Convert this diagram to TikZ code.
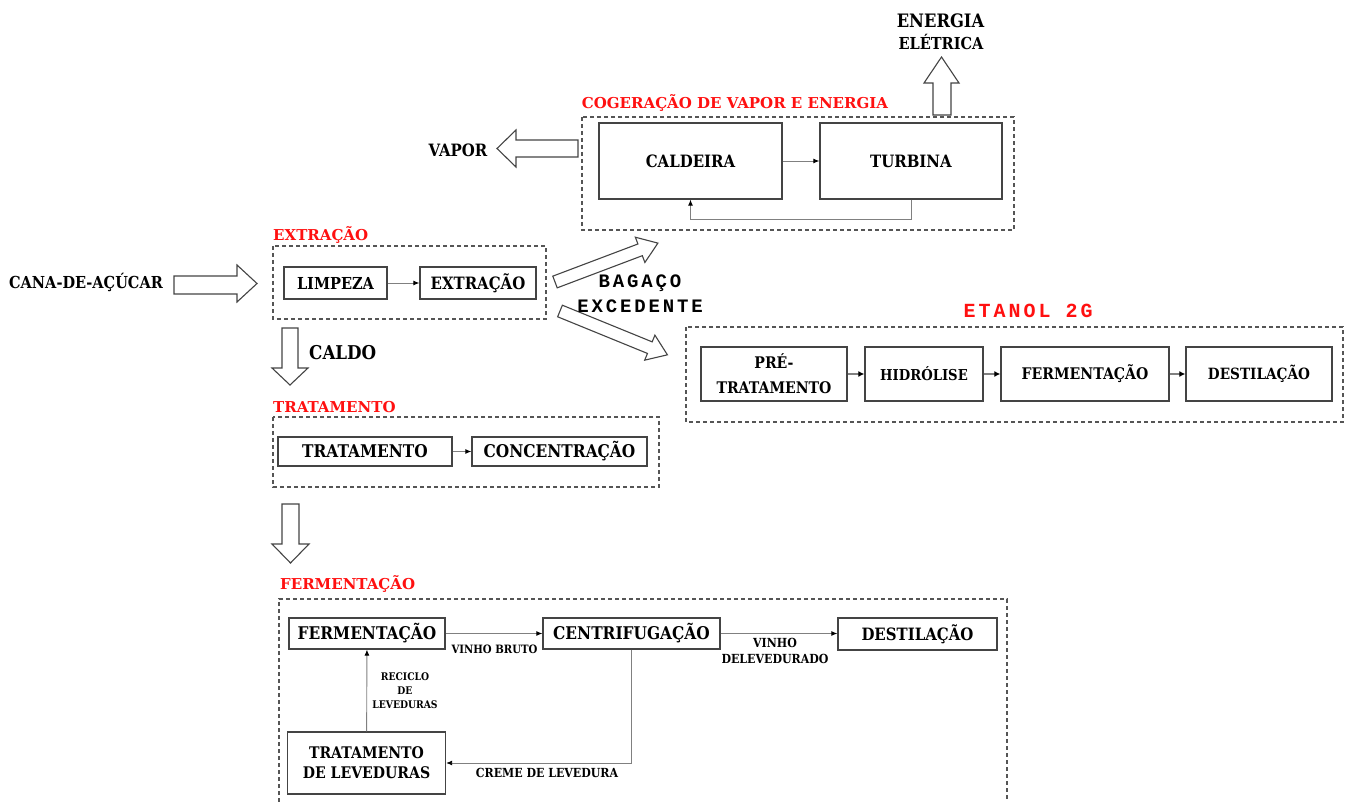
\documentclass[tikz,border=0pt]{standalone}
\usepackage{fontspec}
\setmainfont{DejaVu Serif}[FakeStretch=0.88]
\newfontfamily\wideserif{DejaVu Serif}
\newfontfamily\monofont{Liberation Mono}[LetterSpace=15]
\usetikzlibrary{arrows.meta}

\definecolor{boxline}{HTML}{444444}
\definecolor{dashgray}{HTML}{555555}
\definecolor{flowgray}{HTML}{808080}
\definecolor{titlered}{HTML}{FF1010}

% block arrow: start point, angle, length, shaft width, head width, head length
\newcommand{\blockarrow}[6]{%
  \begin{scope}[shift={#1}, rotate=#2]
    \draw[blockarr] (0,-#4/2) -- ({#3-#6},-#4/2) -- ({#3-#6},-#5/2) -- (#3,0)
      -- ({#3-#6},#5/2) -- ({#3-#6},#4/2) -- (0,#4/2) -- cycle;
  \end{scope}}

\newcommand{\fs}[1]{\bfseries\fontsize{#1}{#1}\selectfont}

\begin{document}
\begin{tikzpicture}[x=1pt,y=-1pt,
  proc/.style={draw=boxline, line width=1.3pt, fill=white, inner sep=0pt,
    align=center, font=\fs{17}},
  group/.style={draw=dashgray, line width=1.4pt, dash pattern=on 4pt off 3pt},
  flow/.style={draw=flowgray, line width=0.9pt,
    -{Latex[length=6pt,width=5pt,color=black]}},
  flowthick/.style={draw=flowgray, line width=2pt,
    -{Latex[length=6pt,width=6pt,color=black]}},
  blockarr/.style={draw=boxline, line width=1.1pt, fill=white, line join=miter},
  lbl/.style={inner sep=0pt, align=center, font=\fs{16}},
  small/.style={inner sep=0pt, align=center, font=\fs{11.5}},
  sect/.style={inner sep=0pt, anchor=west, text=titlered,
    font=\wideserif\bfseries\fontsize{15}{18}\selectfont}
]
\useasboundingbox (0,0) rectangle (1354,802);
\fill[white] (0,0) rectangle (1354,802);

% ---------- cogeneration ----------
\node[lbl, font=\fs{18.5}] (energia) at (940.5,21) {ENERGIA};
\node[lbl, font=\fs{16.5}] (eletrica) at (941,42) {ELÉTRICA};
\draw[blockarr] (933,115) -- (933,83) -- (924,83) -- (941.5,57) -- (959,83)
  -- (951,83) -- (951,115) -- cycle;

\node[sect, anchor=center] (tcog) at (735,103) {COGERAÇÃO DE VAPOR E ENERGIA};
\draw[group] (582,117) rectangle (1014,230);
\node[proc, minimum width=183pt, minimum height=76pt] (cald) at (690.5,161) {CALDEIRA};
\node[proc, minimum width=182pt, minimum height=76pt] (turb) at (911,161) {TURBINA};
\draw[flow] (cald) -- (turb);
\draw[flow] (turb.south) -- ++(0,20) -| (cald.south);

\node[lbl, font=\fs{17}] (vapor) at (458,150) {VAPOR};
\draw[blockarr] (578,140) -- (516,140) -- (516,130) -- (497,148.5) -- (516,167)
  -- (516,157) -- (578,157) -- cycle;

% ---------- extraction ----------
\node[lbl, font=\fs{16.5}] (cana) at (86,282) {CANA-DE-AÇÚCAR};
\draw[blockarr] (174,276) -- (237,276) -- (237,265) -- (257,283.5) -- (237,302)
  -- (237,294) -- (174,294) -- cycle;

\node[sect] (text) at (273,235) {EXTRAÇÃO};
\draw[group] (273,246) rectangle (546,319);
\node[proc, minimum width=103pt, minimum height=32pt, font=\fs{16.5}] (limp) at (335.5,283) {LIMPEZA};
\node[proc, minimum width=116pt, minimum height=32pt, font=\fs{17}] (extr) at (478,283) {EXTRAÇÃO};
\draw[flow] (limp) -- (extr);

% juice down to treatment
\draw[blockarr] (282,328) -- (282,368) -- (272,368) -- (290,385) -- (308,368)
  -- (298,368) -- (298,328) -- cycle;
\node[lbl, anchor=west, font=\fs{19}] (caldo) at (309,353) {CALDO};

% surplus bagasse
\blockarrow{(555,282)}{20.7}{110}{12.5}{27}{19}
\blockarrow{(560,311)}{-22.2}{116}{12.5}{27}{19}
\node[inner sep=0pt, font=\monofont\bfseries\fontsize{19}{23}\selectfont] (bag1) at (640,283) {BAGAÇO};
\node[inner sep=0pt, font=\monofont\bfseries\fontsize{19}{23}\selectfont] (bag2) at (640,306) {EXCEDENTE};

% ---------- second generation ethanol ----------
\node[inner sep=0pt, text=titlered,
  font=\monofont\bfseries\fontsize{20}{24}\selectfont] (tet) at (1028,311) {ETANOL 2G};
\draw[group] (686,327) rectangle (1343,422);
\node[proc, minimum width=146pt, minimum height=54pt,
  font=\bfseries\fontsize{16}{25}\selectfont] (pre) at (774,374) {PRÉ-\\TRATAMENTO};
\node[proc, minimum width=118pt, minimum height=54pt, font=\fs{15}] (hid) at (924,374) {HIDRÓLISE};
\node[proc, minimum width=168pt, minimum height=54pt, font=\fs{16}] (fer2) at (1085,374) {FERMENTAÇÃO};
\node[proc, minimum width=146pt, minimum height=54pt, font=\fs{15.5}] (des2) at (1259,374) {DESTILAÇÃO};
\draw[flowthick] (pre) -- (hid);
\draw[flowthick] (hid) -- (fer2);
\draw[flowthick] (fer2) -- (des2);

% ---------- treatment ----------
\node[sect] (ttrat) at (273,407) {TRATAMENTO};
\draw[group] (273,417) rectangle (659,487);
\node[proc, minimum width=174pt, minimum height=29pt, font=\fs{17.5}] (trat) at (365,451.5) {TRATAMENTO};
\node[proc, minimum width=175pt, minimum height=29pt, font=\fs{17.5}] (conc) at (559.5,451.5) {CONCENTRAÇÃO};
\draw[flow] (trat) -- (conc);

\draw[blockarr] (282,504) -- (282,544) -- (272,544) -- (290.5,563) -- (309,544)
  -- (299,544) -- (299,504) -- cycle;

% ---------- fermentation ----------
\node[sect] (tferm) at (280,584) {FERMENTAÇÃO};
\draw[group] (279,802) -- (279,599) -- (1007,599) -- (1007,802);
\node[proc, minimum width=156pt, minimum height=31pt, font=\fs{17.5}] (ferm) at (367,633.5) {FERMENTAÇÃO};
\node[proc, minimum width=177pt, minimum height=31pt, font=\fs{17.5}] (cent) at (631.5,633.5) {CENTRIFUGAÇÃO};
\node[proc, minimum width=159pt, minimum height=32pt, font=\fs{17}] (dest) at (917.5,634) {DESTILAÇÃO};
\node[proc, minimum width=158pt, minimum height=62pt,
  font=\bfseries\fontsize{16}{20}\selectfont] (tlev) at (366.5,763) {TRATAMENTO\\DE LEVEDURAS};
\draw[flow] (ferm) -- (cent);
\draw[flow] (cent.east) -- (dest.west |- cent.east);
\draw[flow] (tlev) -- (ferm);
\draw[flow] (cent.south) |- (tlev.east);

\node[small] (vb) at (494.5,649) {VINHO BRUTO};
\node[small, font=\bfseries\fontsize{12.5}{16}\selectfont] (vd) at (775,651) {VINHO\\DELEVEDURADO};
\node[small, font=\bfseries\fontsize{10.5}{14}\selectfont] (rl) at (405,691) {RECICLO\\DE\\LEVEDURAS};
\node[small, font=\fs{12.5}] (cl) at (547,773) {CREME DE LEVEDURA};
\end{tikzpicture}
\end{document}
